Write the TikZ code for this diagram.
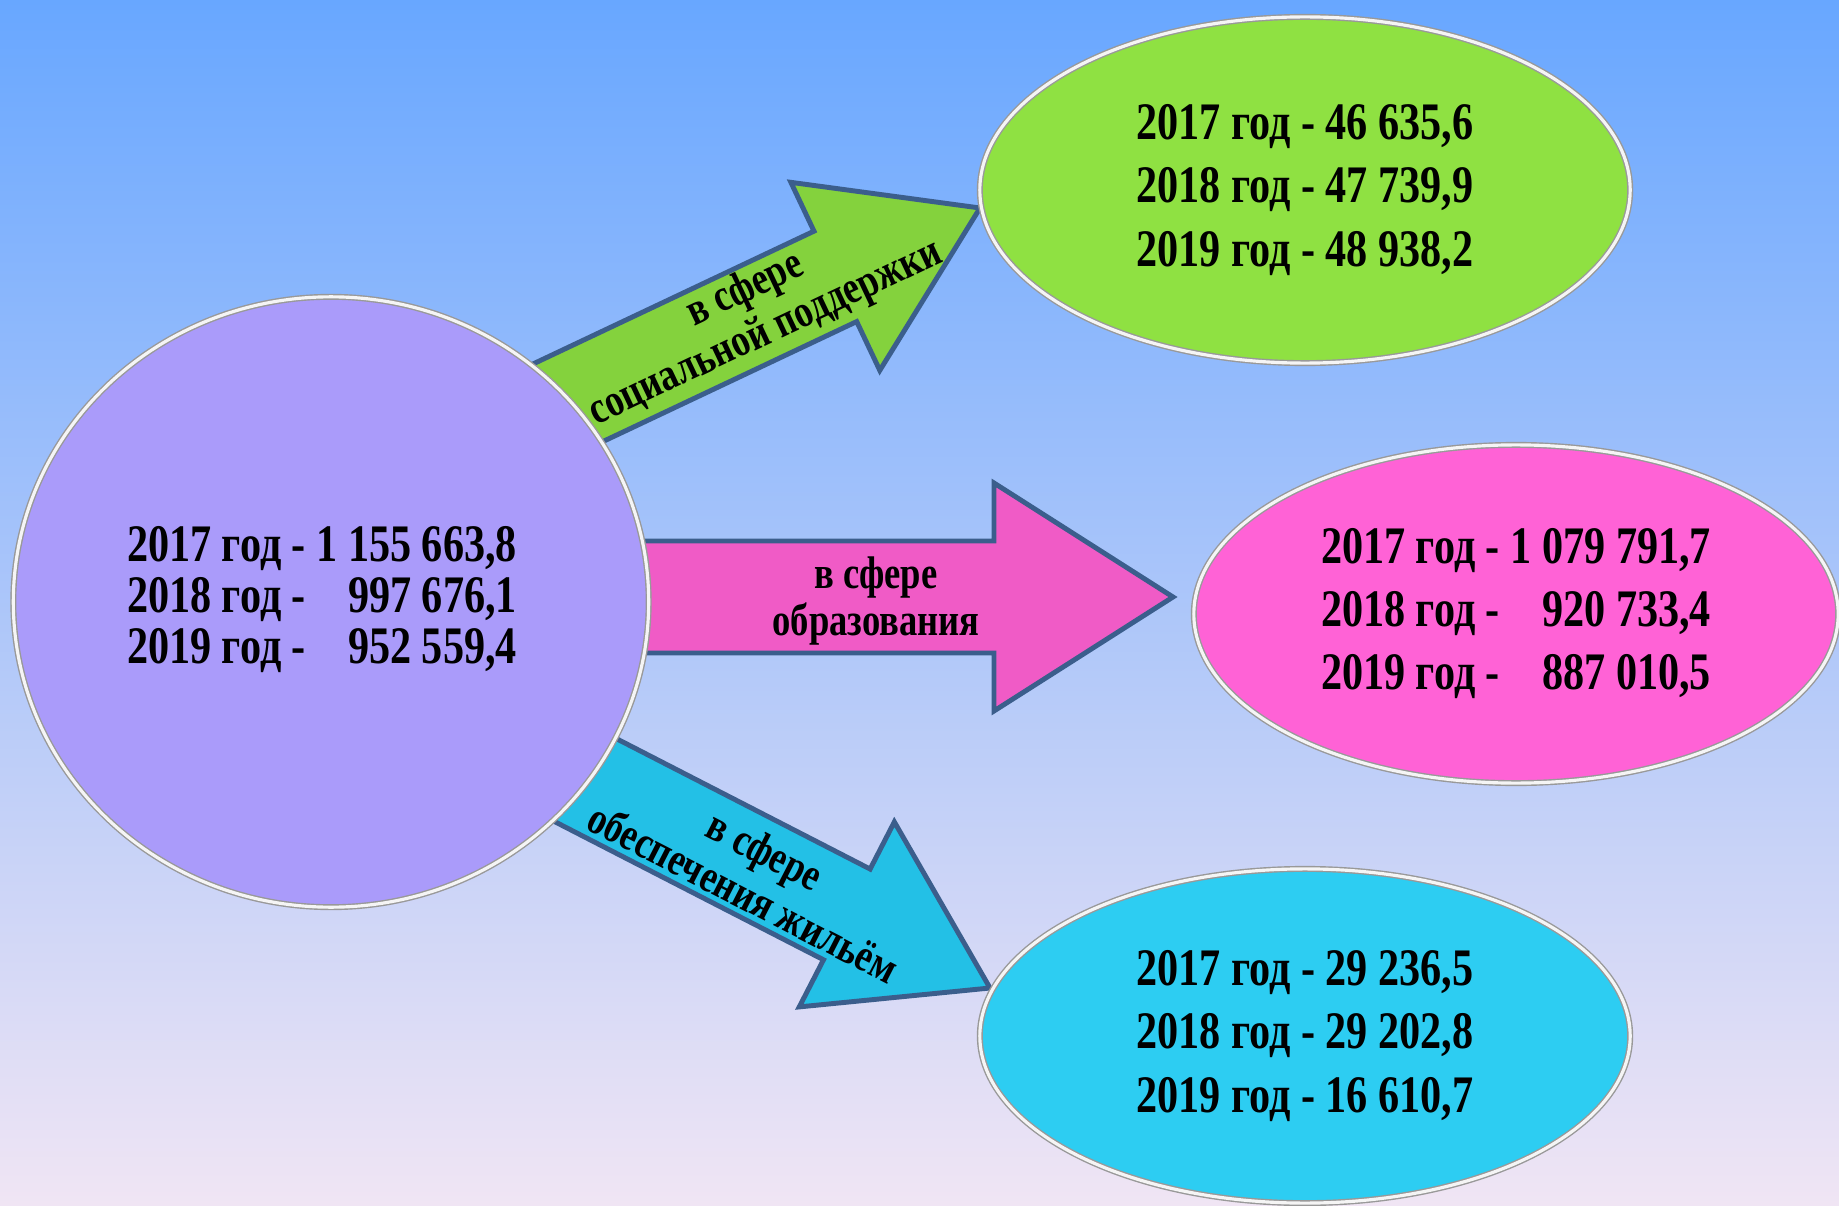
\documentclass[tikz,border=0pt]{standalone}
\usepackage{fontspec}
\setmainfont{Liberation Serif}[FakeStretch=0.8]
\usetikzlibrary{shapes.geometric}

\definecolor{bgtop}{RGB}{104,167,255}
\definecolor{bgmid}{RGB}{143,196,248}
\definecolor{bgbot}{RGB}{240,229,244}
\definecolor{rimblue}{RGB}{59,94,140}
\definecolor{lilac}{RGB}{170,155,250}
\definecolor{lime}{RGB}{143,225,66}
\definecolor{rose}{RGB}{255,98,214}
\definecolor{sky}{RGB}{45,205,242}
\definecolor{limearrow}{RGB}{132,210,61}
\definecolor{rosearrow}{RGB}{240,91,198}
\definecolor{skyarrow}{RGB}{35,192,230}

\begin{document}
\begin{tikzpicture}[x=0.01cm,y=0.01cm,
  bubble/.style={ellipse, draw=gray!80, double=white!92!gray, double distance=0.9pt,
    line width=0.4pt, inner sep=0pt, align=center,
    font=\bfseries\fontsize{15}{18}\selectfont},
  fatarrow/.style={draw=rimblue, line width=1.4pt, line join=miter},
  arrowtext/.style={font=\bfseries\fontsize{13}{13.6}\selectfont, align=center,
    transform shape, inner sep=0pt}]
\useasboundingbox (0,0) rectangle (1839,1205);
\shade[top color=bgtop, middle color=bgmid, bottom color=bgbot] (0,0) rectangle (1839,1205);

% arrows (tails go under the circle)
\coordinate (tipsoc) at (980,997);
\begin{scope}[shift={(tipsoc)}, rotate=25.3]
\draw[fatarrow, fill=limearrow] (0,0) -- (-160,104) -- (-160,50) -- (-520,50) -- (-520,-50) -- (-160,-50) -- (-160,-104) -- cycle;
\node[arrowtext] (labsoc) at (-247,2) {в сфере\\социальной поддержки};
\end{scope}

\coordinate (tipedu) at (1173,608);
\begin{scope}[shift={(tipedu)}]
\draw[fatarrow, fill=rosearrow] (0,0) -- (-179,114) -- (-179,56) -- (-720,56) -- (-720,-56) -- (-179,-56) -- (-179,-114) -- cycle;
\node[arrowtext] (labedu) at (-297,-4) {в сфере\\образования};
\end{scope}

\coordinate (tiphou) at (990,217);
\begin{scope}[shift={(tiphou)}, rotate=-27.2]
\draw[fatarrow, fill=skyarrow] (0,0) -- (-161,104) -- (-161,51) -- (-520,51) -- (-520,-51) -- (-161,-51) -- (-161,-104) -- cycle;
\node[arrowtext] (labhou) at (-263,-4) {в сфере\\обеспечения жильём};
\end{scope}

% totals
\node[bubble, fill=lilac, minimum width=6.35cm, minimum height=6.1cm] (total) at (331,603)
  {\fontsize{15}{14.5}\selectfont\hspace*{-0.18cm}\begin{tabular}{@{}l@{\ }r@{}}
   2017 год - & 1 155 663,8\\ 2018 год - & 997 676,1\\ 2019 год - & 952 559,4\end{tabular}};

\node[bubble, fill=lime, minimum width=6.5cm, minimum height=3.46cm] (soc) at (1305,1015)
  {2017 год - 46 635,6\\2018 год - 47 739,9\\2019 год - 48 938,2};

\node[bubble, fill=rose, minimum width=6.44cm, minimum height=3.38cm] (edu) at (1516,591)
  {\begin{tabular}{@{}l@{\ }r@{}}
   2017 год - & 1 079 791,7\\ 2018 год - & 920 733,4\\ 2019 год - & 887 010,5\end{tabular}};

\node[bubble, fill=sky, minimum width=6.5cm, minimum height=3.34cm] (hou) at (1305,169)
  {2017 год - 29 236,5\\2018 год - 29 202,8\\2019 год - 16 610,7};
\end{tikzpicture}
\end{document}
